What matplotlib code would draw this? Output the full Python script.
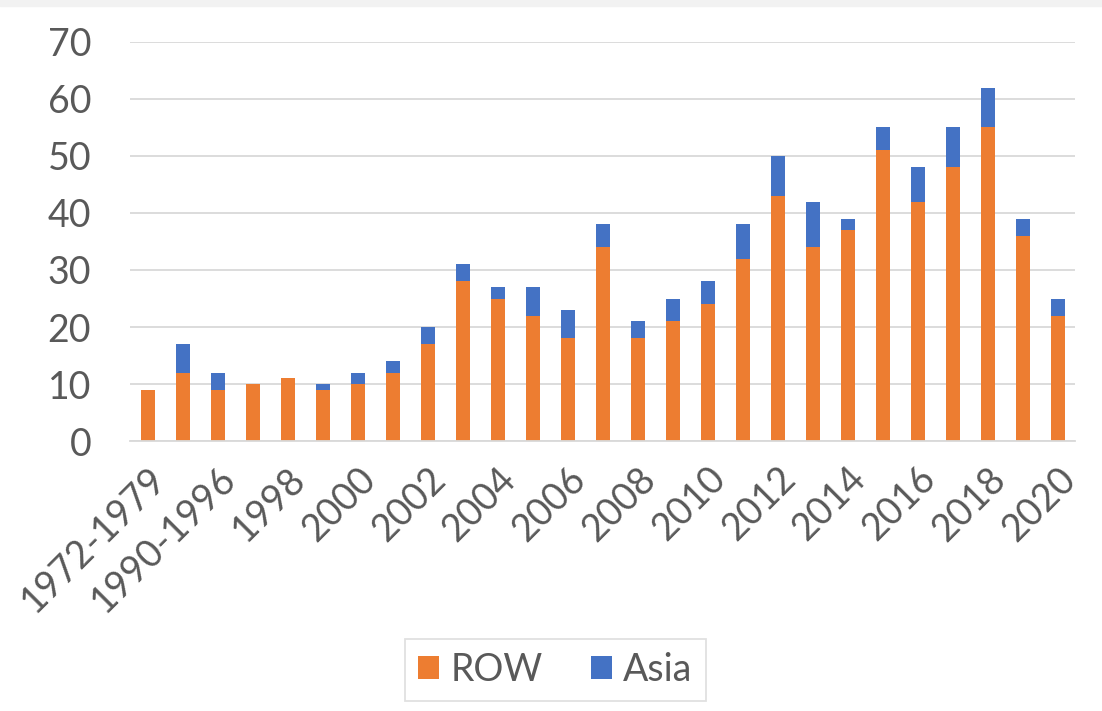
import matplotlib
matplotlib.use("Agg")
import matplotlib.pyplot as plt
import numpy as np

# periods and counts per region
periods = ["1972-1979", "1980-1989", "1990-1996", "1997", "1998", "1999", "2000",
           "2001", "2002", "2003", "2004", "2005", "2006", "2007", "2008", "2009",
           "2010", "2011", "2012", "2013", "2014", "2015", "2016", "2017", "2018",
           "2019", "2020"]
row = [9, 12, 9, 10, 11, 9, 10, 12, 17, 28, 25, 22, 18, 34, 18, 21, 24, 32, 43,
       34, 37, 51, 42, 48, 55, 36, 22]
asia = [0, 5, 3, 0, 0, 1, 2, 2, 3, 3, 2, 5, 5, 4, 3, 4, 4, 6, 7, 8, 2, 4, 6, 7,
        7, 3, 3]

txt = "#595959"
plt.rcParams['font.family'] = ['Lato', 'DejaVu Sans']

fig = plt.figure(figsize=(11.02, 7.11), dpi=100)
fig.patches.append(plt.Rectangle((0, 0.992), 1, 0.008, transform=fig.transFigure,
                                 color="#f2f2f2", zorder=0))
ax = fig.add_axes([0.118, 0.3797, 0.8575, 0.5613])

x = np.arange(len(periods))
ax.bar(x, row, width=0.4, color="#ED7D31", label="ROW", zorder=2)
ax.bar(x, asia, width=0.4, bottom=row, color="#4472C4", label="Asia", zorder=2)

ax.set_xlim(-0.5, len(periods) - 0.5)
ax.set_ylim(0, 70)
ax.set_yticks(range(0, 71, 10))
ax.yaxis.grid(True, color="#d9d9d9", linewidth=1.3, zorder=0)
for s in ["top", "right", "left"]:
    ax.spines[s].set_visible(False)
ax.spines["bottom"].set_color("#d9d9d9")
ax.spines["bottom"].set_linewidth(1.3)
ax.tick_params(length=0, labelsize=27, colors=txt)
ax.tick_params(axis="y", pad=28)

ax.set_xticks(x[::2])
ax.set_xticklabels(periods[::2], rotation=45, ha="right", rotation_mode="anchor")
ax.tick_params(axis="x", pad=14)

leg = fig.legend(loc="center", bbox_to_anchor=(0.504, 0.058), ncol=2,
                 fontsize=27, frameon=True, fancybox=False, handlelength=0.55,
                 handleheight=0.55, handletextpad=0.3, columnspacing=1.3,
                 borderpad=0.35)
leg.get_frame().set_edgecolor("#d9d9d9")
leg.get_frame().set_linewidth(1.3)
for t in leg.get_texts():
    t.set_color(txt)

fig.savefig("out.png", dpi=100)
